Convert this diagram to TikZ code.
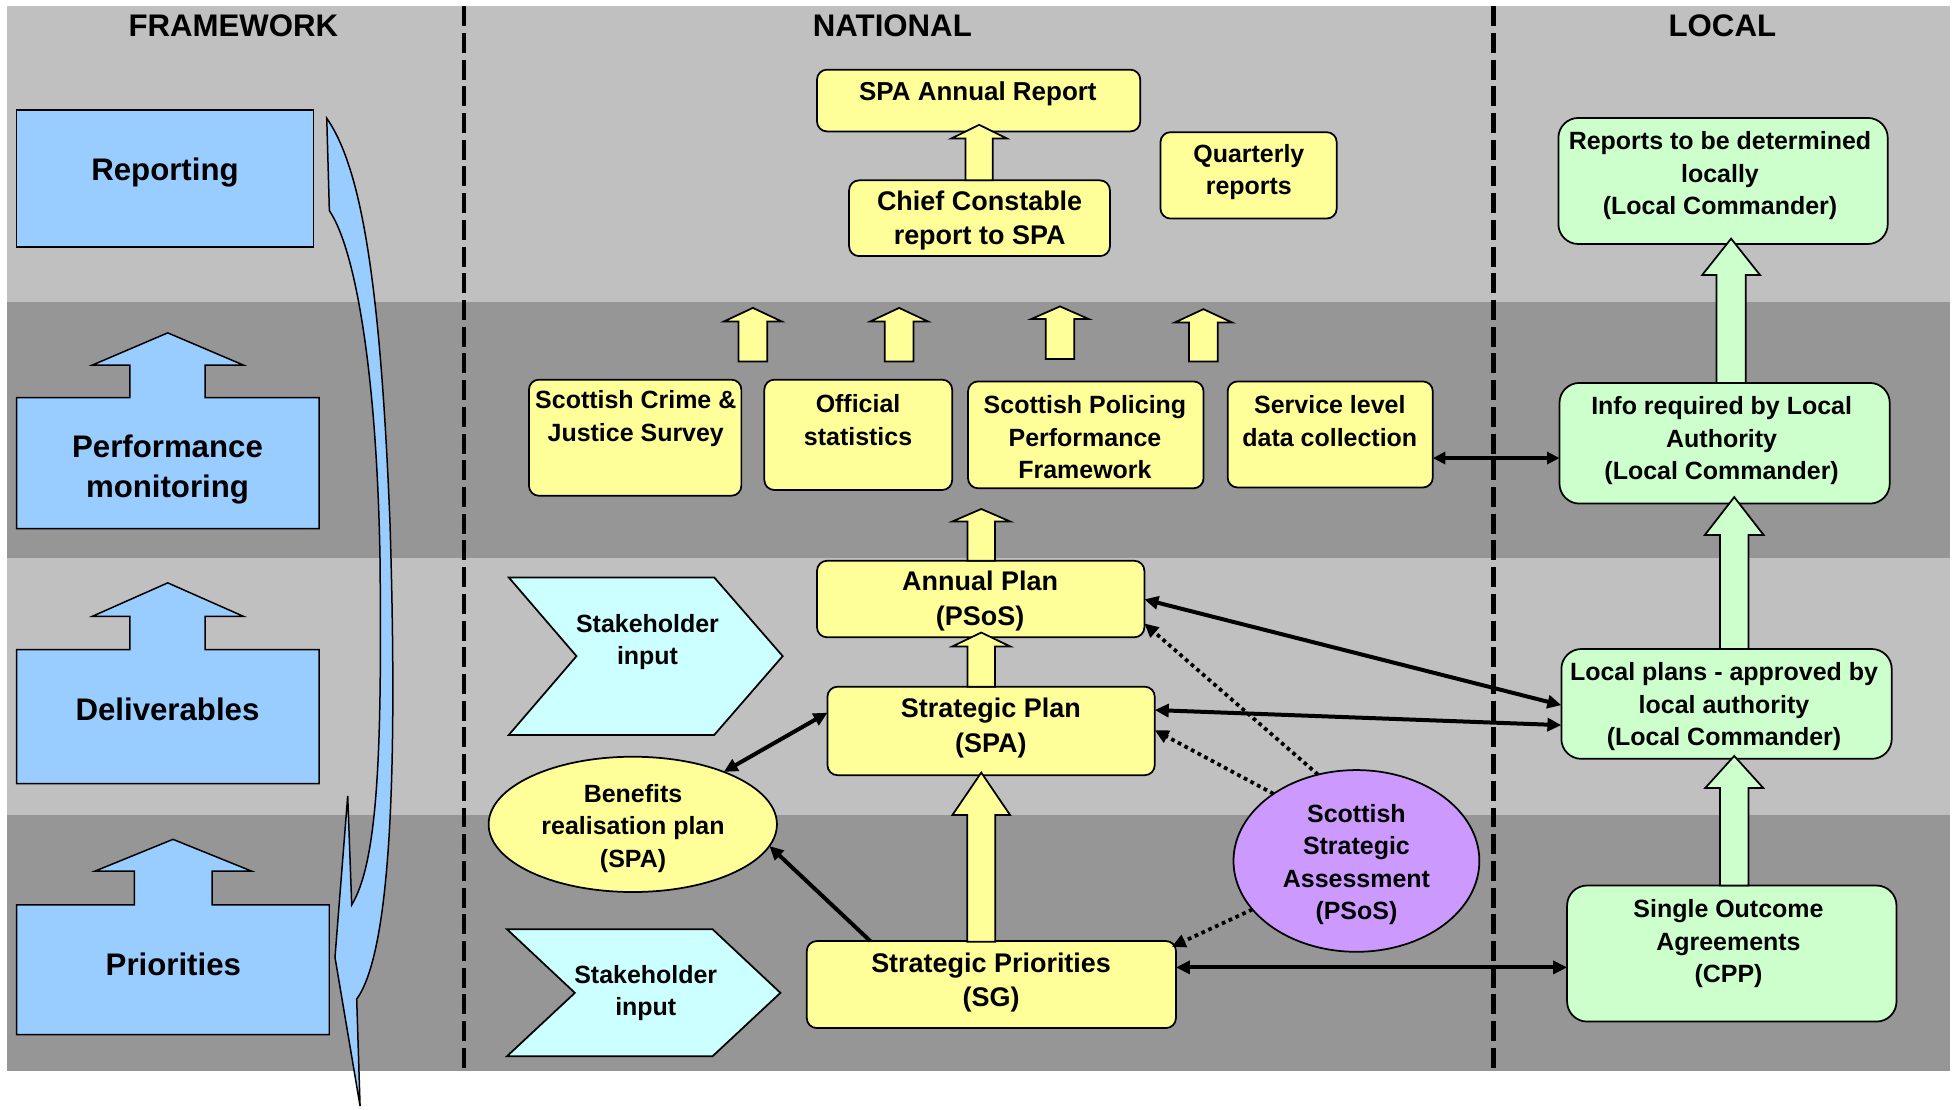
\documentclass[tikz,border=0pt]{standalone}
\usepackage{fontspec}
\setmainfont{Liberation Sans}
\usetikzlibrary{arrows.meta,fit,shapes.geometric}
\definecolor{bandL}{HTML}{C0C0C0}
\definecolor{bandD}{HTML}{969696}
\definecolor{fwblue}{HTML}{99CCFF}
\definecolor{nyellow}{HTML}{FFFF99}
\definecolor{lgreen}{HTML}{CCFFCC}
\definecolor{scyan}{HTML}{CCFFFF}
\definecolor{spurple}{HTML}{CC99FF}
\tikzset{
  every node/.style={inner sep=0pt, outer sep=0pt},
  fwbox/.style={draw=black, fill=fwblue, line width=0.6pt, line join=miter},
  ybox/.style={draw=black, fill=nyellow, line width=0.7pt, rounded corners=4pt},
  gbox/.style={draw=black, fill=lgreen, line width=0.7pt, rounded corners=8pt},
  chev/.style={draw=black, fill=scyan, line width=0.7pt, line join=miter},
  txt/.style={align=center, yshift=-0.6pt, font=\fontsize{10}{13}\selectfont\bfseries},
  txtm/.style={align=center, yshift=-0.6pt, font=\fontsize{10.4}{13.5}\selectfont\bfseries},
  txtb/.style={align=center, yshift=-0.6pt, font=\fontsize{10.8}{13.9}\selectfont\bfseries},
  fwtxt/.style={align=center, font=\fontsize{12.5}{16}\selectfont\bfseries},
  hdr/.style={font=\fontsize{12.5}{15}\selectfont\bfseries},
  blockarrow/.style={draw=black, line width=0.7pt, line join=miter},
  conn/.style={line width=1.6pt, -{Triangle[length=5.6pt,width=5.2pt]}},
  conn2/.style={line width=1.6pt, {Triangle[length=5.6pt,width=5.2pt]}-{Triangle[length=5.6pt,width=5.2pt]}},
  conn2thin/.style={line width=1.3pt, {Triangle[length=5pt,width=4.8pt]}-{Triangle[length=5pt,width=4.8pt]}},
  dconn/.style={line width=1.5pt, dash pattern=on 1.5pt off 1.5pt, -{Triangle[length=5.6pt,width=5.2pt]}},
  divider/.style={line width=1.75pt, dash pattern=on 8pt off 2.7pt},
}
% #1 xc, #2 y tip, #3 y head base, #4 y bottom, #5 head half width, #6 stem half width, #7 fill
\newcommand\blockup[7]{%
  \filldraw[blockarrow, fill=#7] (#1,#2) -- (#1+#5,#3) -- (#1+#6,#3) -- (#1+#6,#4)
    -- (#1-#6,#4) -- (#1-#6,#3) -- (#1-#5,#3) -- cycle;}
\begin{document}
\begin{tikzpicture}[x=0.5pt,y=-0.5pt]
\useasboundingbox (0,0) rectangle (1568,889);
\fill[white] (0,0) rectangle (1568,889);
% bands
\fill[bandL] (6,5) rectangle (1562,242);
\fill[bandD] (6,242) rectangle (1562,447);
\fill[bandL] (6,447) rectangle (1562,653);
\fill[bandD] (6,653) rectangle (1562,858);
% dividers
\draw[divider] (372,5) -- (372,858);
\draw[divider] (1196.7,5) -- (1196.7,858);
% headers
\node[hdr] (hfw) at (187,21) {FRAMEWORK};
\node[hdr] (hnat) at (715,21) {NATIONAL};
\node[hdr] (hloc) at (1380,21) {LOCAL};

% FRAMEWORK column
\node[fwbox, fit={(13.4,88) (251,198)}] (rep) {};
\node[fwtxt] (rept) at (132.2,138) {Reporting};
\filldraw[fwbox] (13.4,423.6) -- (13.4,318.5) -- (104,318.5) -- (104,292.5) -- (74,292.5) -- (134.4,266.7) -- (195,292.5) -- (164.3,292.5) -- (164.3,318.5) -- (255.6,318.5) -- (255.6,423.6) -- cycle;
\node[fwtxt] (perft) at (134.2,376) {Performance\\monitoring};
\filldraw[fwbox] (13.4,627.8) -- (13.4,520.5) -- (104,520.5) -- (104,493.8) -- (74,493.8) -- (134.4,467) -- (195,493.8) -- (164.3,493.8) -- (164.3,520.5) -- (255.6,520.5) -- (255.6,627.8) -- cycle;
\node[fwtxt] (delt) at (134.2,568.5) {Deliverables};
\filldraw[fwbox] (13.4,829) -- (13.4,725) -- (107.6,725) -- (107.6,698) -- (76,698) -- (138.6,672.5) -- (201.7,698) -- (169.9,698) -- (169.9,725) -- (263.8,725) -- (263.8,829) -- cycle;
\node[fwtxt] (prit) at (138.9,772.5) {Priorities};
% curved arrow
\filldraw[fwbox] (261.8,94.8) .. controls (290,135) and (305,230) .. (312.5,420)
  .. controls (318,600) and (315,760) .. (285.8,800.5) -- (288.5,886.2) -- (268.4,767)
  -- (278.6,637.7) -- (281.8,725) .. controls (303,690) and (306,600) .. (304.5,449)
  .. controls (302,300) and (285,200) .. (263.9,168.8) -- cycle;

% NATIONAL column
\node[ybox, fit={(654.6,55.8) (913.6,105.3)}] (spa) {};
\node[txtm] (spat) at (783.5,74) {SPA Annual Report};
\node[ybox, fit={(680.3,144.5) (889.3,205.2)}] (cc) {};
\node[txtb] (cct) at (784.9,175.5) {Chief Constable\\report to SPA};
\node[ybox, fit={(929.8,105.9) (1071,175.1)}] (qr) {};
\node[txt] (qrt) at (1000.6,136.5) {Quarterly\\reports};

\node[ybox, fit={(423.8,304.2) (594,397.2)}] (scjs) {};
\node[txt] (scjst) at (509.4,334) {Scottish Crime \&\\Justice Survey};
\node[ybox, fit={(612.4,304.2) (762.9,392.6)}] (os) {};
\node[txt] (ost) at (687.5,335.5) {Official\\statistics};
\node[ybox, fit={(775.6,305.6) (964.3,391.2)}] (sppf) {};
\node[txt] (sppft) at (869.3,349.2) {Scottish Policing\\Performance\\Framework};
\node[ybox, fit={(983.6,305.6) (1148,390.6)}] (sl) {};
\node[txt] (slt) at (1065.5,336) {Service level\\data collection};

\node[ybox, fit={(654.6,449.3) (916.9,510.6)}] (ap) {};
\node[txtb] (apt) at (785.3,480.5) {Annual Plan\\(PSoS)};
\node[ybox, fit={(663,550.2) (925.2,621.1)}] (sp) {};
\node[txtb] (spt) at (793.9,582) {Strategic Plan\\(SPA)};
\node[ybox, fit={(646.4,754) (942.2,823.7)}] (spri) {};
\node[txtb] (sprit) at (794.1,786) {Strategic Priorities\\(SG)};

\node[ellipse, draw=black, fill=nyellow, line width=0.7pt, minimum width=115.5pt, minimum height=54.2pt] (ben) at (507,660.5) {};
\node[txt] (bent) at (507.2,662.5) {Benefits\\realisation plan\\(SPA)};

\filldraw[chev] (407.7,462.7) -- (572.3,462.7) -- (627.1,525.7) -- (572.3,588.8) -- (407.7,588.8) -- (461.9,525.7) -- cycle;
\node[txt] (shat) at (518.8,513) {Stakeholder\\input};
\filldraw[chev] (406.3,744.6) -- (571,744.6) -- (625.3,795.5) -- (571,846.2) -- (406.3,846.2) -- (460.6,795.5) -- cycle;
\node[txt] (shbt) at (517.4,794.5) {Stakeholder\\input};

\node[ellipse, draw=black, fill=spurple, line width=0.7pt, minimum width=98.5pt, minimum height=72.8pt] (ssa) at (1086.8,689.8) {};
\node[txt] (ssat) at (1086.8,691.5) {Scottish\\Strategic\\Assessment\\(PSoS)};

% LOCAL column
\node[gbox, fit={(1248.6,94.5) (1512.5,195.5)}] (rl) {};
\node[txt] (rlt) at (1378.1,139.5) {Reports to be determined\\locally\\(Local Commander)};
\node[gbox, fit={(1249.5,306.8) (1514.1,403.5)}] (info) {};
\node[txt] (infot) at (1379.4,351.8) {Info required by Local\\Authority\\(Local Commander)};
\node[gbox, fit={(1251,520) (1515.7,608)}] (lp) {};
\node[txt] (lpt) at (1381.3,565) {Local plans - approved by\\local authority\\(Local Commander)};
\node[gbox, fit={(1255.6,709.5) (1519.5,818.5)}] (soa) {};
\node[txt] (soat) at (1384.9,755) {Single Outcome\\Agreements\\(CPP)};

% block arrows
\blockup{784.5}{100}{111}{144.5}{22.3}{11}{nyellow}
\blockup{603.2}{246.7}{257.5}{289.6}{23}{11.5}{nyellow}
\blockup{720.4}{246.7}{257.5}{289.6}{23}{11.5}{nyellow}
\blockup{849.3}{245.5}{255.6}{287.6}{23}{11.5}{nyellow}
\blockup{964.2}{247.7}{258.4}{289.6}{23}{11.5}{nyellow}
\blockup{786.2}{407.8}{417.8}{449.3}{23.1}{11}{nyellow}
\blockup{786.2}{506.8}{517.9}{550.2}{23.1}{11}{nyellow}
\blockup{786.2}{619}{653}{754.5}{23.1}{11.3}{nyellow}
\blockup{1387}{191.2}{220.4}{306.8}{23.2}{11.75}{lgreen}
\blockup{1389.5}{398.3}{428.7}{520}{23.6}{11.5}{lgreen}
\blockup{1389.5}{605.7}{631.3}{709.5}{23.2}{11.5}{lgreen}

% connectors
\draw[conn2thin] (sl.east |- 0,367) -- (info.west |- 0,367);
\draw[conn2] (ap.east |- 0,480.2) -- (lp.west |- 0,565);
\draw[conn2] (sp.east |- 0,568.9) -- (lp.west |- 0,581);
\draw[conn2] (spri.east |- 0,775.1) -- (soa.west |- 0,775.1);
\draw[conn2] (ben.30) -- (sp.west |- 0,571);
\draw[conn] (spri.north -| 697.3,0) -- (ben.-9);
\draw[dconn] (ssa.114) -- (ap.east |- 0,499.5);
\draw[dconn] (ssa.141) -- (sp.east |- 0,585);
\draw[dconn] (ssa.205) -- ([shift={(-3.4,4.6)}]spri.north east);
\end{tikzpicture}
\end{document}
